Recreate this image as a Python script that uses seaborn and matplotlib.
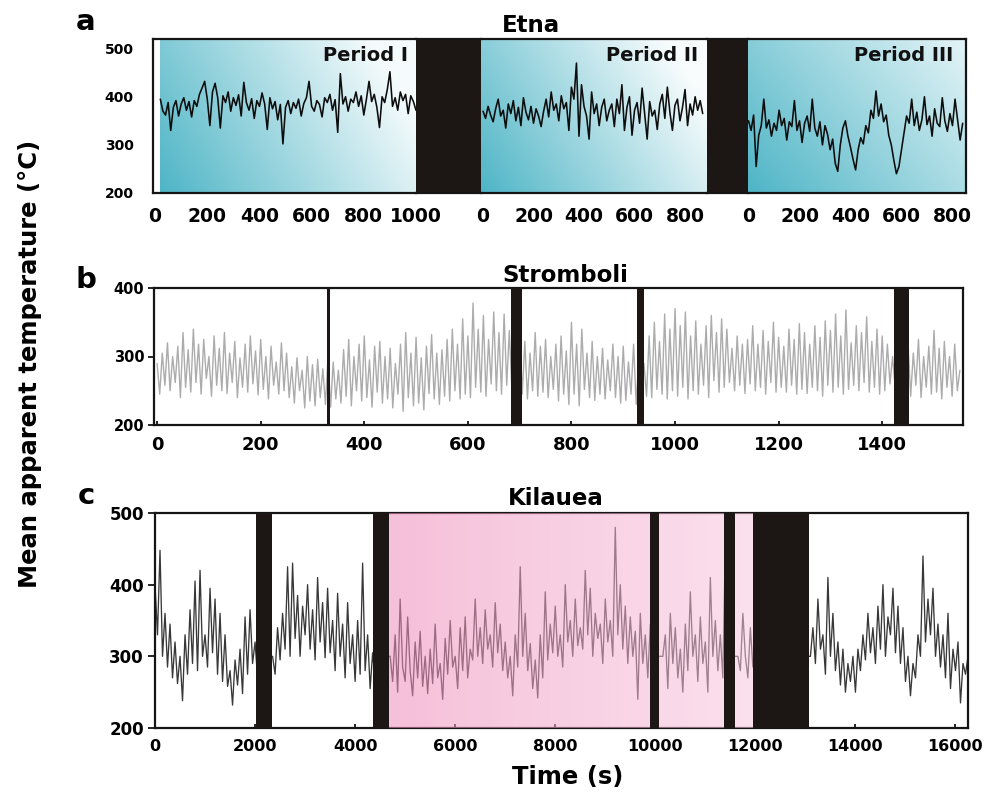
import numpy as np
import matplotlib
matplotlib.use("Agg")
import matplotlib.pyplot as plt
import seaborn as sns

# ---------------- data ----------------
# Etna (panel a), three periods, sampled every 10 s
etna_p1_start = 20
etna_p1 = [395, 370, 362, 388, 330, 378, 392, 360, 385, 398,
           372, 390, 358, 392, 380, 405, 418, 432, 395, 340,
           410, 428, 398, 335, 402, 388, 410, 370, 398, 382,
           404, 360, 430, 388, 372, 396, 355, 392, 380, 408,
           385, 332, 398, 375, 390, 352, 384, 302, 378, 392,
           365, 388, 376, 395, 360, 386, 398, 432, 380, 370,
           392, 384, 358, 398, 388, 405, 372, 394, 326, 448,
           385, 400, 370, 395, 388, 410, 380, 402, 362, 395,
           432, 390, 405, 378, 336, 400, 388, 415, 452, 380,
           398, 372, 410, 392, 405, 365, 402, 390, 372]
etna_p2 = [370, 355, 380, 362, 348, 375, 395, 360, 372, 335,
           385, 365, 392, 350, 378, 340, 398, 368, 352, 380,
           345, 375, 360, 338, 370, 395, 358, 410, 372, 385,
           350, 402, 375, 388, 330, 420, 395, 470, 318, 425,
           380, 360, 312, 410, 365, 385, 340, 378, 395, 350,
           372, 385, 338, 395, 365, 425, 330, 378, 400, 320,
           372, 388, 345, 418, 365, 312, 390, 360, 372, 332,
           385, 405, 355, 420, 368, 330, 382, 395, 350, 378,
           415, 340, 385, 362, 400, 372, 392, 365]
etna_p3 = [350, 330, 362, 255, 320, 340, 395, 335, 352, 318,
           345, 330, 372, 340, 355, 310, 348, 338, 392, 330,
           350, 305, 345, 360, 328, 395, 335, 318, 348, 300,
           340, 322, 290, 312, 262, 245, 300, 335, 350, 318,
           295, 270, 248, 290, 315, 302, 340, 325, 372, 355,
           412, 360, 385, 348, 362, 320, 300, 268, 240, 255,
           290, 325, 360, 345, 395, 340, 368, 330, 352, 400,
           342, 360, 318, 375, 345, 338, 398, 350, 328, 365,
           340, 395, 352, 310, 345]
etna_step = 10
etna_periods = ["Period I", "Period II", "Period III"]
etna_xticks = [[0, 200, 400, 600, 800, 1000], [0, 200, 400, 600, 800], [0, 200, 400, 600, 800]]

# Stromboli (panel b), sampled every 5 s
strom_step = 5
strom = [290, 245, 305, 258, 320, 250, 300, 262, 315, 240,
         335, 255, 310, 248, 340, 262, 318, 245, 325, 268,
         300, 242, 330, 258, 312, 250, 335, 246, 305, 262,
         322, 240, 298, 255, 318, 248, 330, 260, 308, 244,
         325, 252, 300, 238, 315, 258, 292, 245, 320, 250,
         305, 240, 285, 232, 298, 250, 280, 225, 300, 235,
         288, 228, 296, 240, 282, 230, 300, 226, 292, 238,
         280, 232, 310, 242, 325, 228, 300, 250, 318, 235,
         330, 240, 295, 226, 315, 248, 322, 232, 300, 238,
         312, 225, 290, 245, 318, 220, 335, 240, 305, 228,
         328, 232, 298, 222, 315, 246, 332, 238, 305, 230,
         310, 242, 325, 235, 340, 250, 318, 238, 355, 245,
         330, 240, 378, 255, 340, 248, 360, 242, 325, 260,
         365, 250, 335, 245, 362, 258, 338, 252, 320, 260,
         340, 245, 322, 238, 305, 250, 335, 242, 315, 248,
         325, 240, 300, 252, 318, 235, 330, 245, 308, 230,
         350, 245, 318, 228, 340, 252, 305, 240, 322, 236,
         300, 245, 312, 238, 295, 250, 318, 240, 300, 232,
         315, 236, 292, 245, 318, 230, 300, 248, 290, 242,
         330, 240, 350, 252, 322, 245, 362, 238, 340, 250,
         370, 242, 345, 255, 365, 238, 330, 250, 352, 245,
         318, 258, 345, 240, 360, 265, 335, 248, 355, 255,
         340, 262, 312, 250, 330, 258, 318, 246, 325, 260,
         345, 250, 318, 255, 338, 245, 322, 262, 350, 248,
         328, 255, 315, 248, 340, 258, 325, 245, 348, 252,
         335, 246, 318, 255, 345, 250, 328, 242, 352, 258,
         338, 248, 362, 255, 330, 245, 368, 252, 320, 258,
         345, 250, 335, 262, 358, 248, 322, 255, 340, 245,
         330, 250, 318, 260, 300, 255, 310, 248, 305, 262,
         318, 242, 305, 258, 325, 240, 300, 255, 315, 245,
         338, 248, 312, 238, 322, 255, 300, 242, 318, 250,
         280]
strom_gaps = [(328, 334), (683, 704), (926, 940), (1422, 1451)]
strom_xticks = [0, 200, 400, 600, 800, 1000, 1200, 1400]

# Kilauea (panel c), sampled every 50 s
kil_step = 50
kil = [400, 330, 448, 300, 360, 285, 345, 270, 320, 262,
       300, 238, 330, 275, 365, 290, 405, 280, 420, 300,
       330, 285, 395, 305, 380, 275, 360, 265, 330, 258,
       280, 232, 295, 260, 310, 248, 355, 275, 365, 290,
       320, 270, 300, 300, 300, 300, 300, 300, 275, 340,
       295, 360, 310, 425, 300, 430, 325, 385, 300, 370,
       330, 400, 310, 365, 295, 410, 320, 375, 298, 395,
       305, 350, 280, 388, 300, 345, 270, 375, 290, 330,
       265, 350, 275, 430, 280, 330, 255, 305, 265, 300,
       300, 300, 300, 300, 300, 265, 330, 250, 380, 285,
       265, 355, 280, 245, 320, 270, 335, 258, 300, 248,
       310, 262, 345, 270, 290, 240, 325, 275, 350, 285,
       300, 255, 340, 280, 355, 270, 310, 295, 380, 300,
       340, 290, 365, 310, 330, 285, 375, 305, 345, 280,
       320, 270, 300, 245, 330, 285, 425, 300, 360, 280,
       318, 255, 295, 242, 330, 270, 390, 295, 345, 305,
       370, 300, 330, 285, 400, 320, 350, 300, 380, 315,
       340, 310, 420, 330, 395, 300, 360, 325, 345, 290,
       380, 320, 350, 300, 480, 330, 400, 310, 370, 290,
       355, 300, 335, 240, 360, 290, 330, 270, 345, 300,
       300, 300, 300, 300, 330, 255, 360, 290, 340, 270,
       310, 250, 345, 280, 390, 300, 330, 265, 355, 290,
       320, 250, 410, 300, 350, 280, 330, 270, 460, 300,
       300, 300, 300, 300, 280, 360, 300, 270, 340, 285,
       300, 300, 300, 300, 300, 300, 300, 300, 300, 300,
       300, 300, 300, 300, 300, 300, 300, 300, 300, 300,
       300, 300, 300, 340, 290, 380, 310, 330, 275, 410,
       300, 360, 280, 320, 260, 310, 250, 290, 265, 300,
       250, 310, 280, 330, 295, 360, 305, 340, 290, 370,
       310, 400, 300, 355, 330, 395, 305, 370, 290, 340,
       265, 300, 245, 290, 270, 330, 300, 440, 320, 380,
       330, 395, 300, 345, 285, 330, 270, 360, 255, 310,
       280, 320, 235, 290, 275, 300]
kil_gaps = [(2020, 2340), (4357, 4677), (9894, 10074), (11373, 11593), (11953, 13072)]
kil_pink = (4677, 11953)
kil_xticks = [0, 2000, 4000, 6000, 8000, 10000, 12000, 14000, 16000]

# ---------------- style ----------------
sns.set_style("white")
plt.rcParams["font.family"] = ["DejaVu Sans"]
plt.rcParams["font.weight"] = "bold"
plt.rcParams["axes.labelweight"] = "bold"
plt.rcParams["text.color"] = "black"
plt.rcParams["xtick.color"] = "black"
plt.rcParams["ytick.color"] = "black"
plt.rcParams["xtick.labelcolor"] = "black"
plt.rcParams["ytick.labelcolor"] = "black"

W, H = 1003, 796
fig = plt.figure(figsize=(W / 100, H / 100), dpi=100)


def fx(px):
    return px / W


def fy(py):
    return 1 - py / H


BLACK = "#1c1615"
EDGE = "#151515"


def gradient(ax, x0, x1, y0, y1, c0, c1, wx, wy, alpha0=1.0, alpha1=1.0, z=0):
    u = np.linspace(0, 1, 300)[None, :]
    v = np.linspace(0, 1, 120)[:, None]
    f = np.clip(wx * u + wy * v, 0, 1)
    c0 = np.array(c0, float) / 255
    c1 = np.array(c1, float) / 255
    rgb = c0[None, None, :] + (c1 - c0)[None, None, :] * f[..., None]
    a = alpha0 + (alpha1 - alpha0) * f
    img = np.dstack([rgb, a])
    ax.imshow(img, extent=(x0, x1, y0, y1), origin="lower", aspect="auto",
              zorder=z, interpolation="bilinear")


# ---------------- panel a (Etna) ----------------
a_bottom, a_top = 193, 39
a_h = (a_bottom - a_top) / H
a_specs = [  # (left px, right px, xlim)
    (153, 416, (-8, 1000)),
    (481, 707, (-8, 887)),
    (748, 966, (-2, 853)),
]
gaps_a = [(416, 481), (707, 748)]
etna_data = [(etna_p1, etna_p1_start), (etna_p2, 0), (etna_p3, 0)]
teal = (78, 181, 198)
grad_params = [
    ((245, 251, 252), 0.85, 0.30),
    ((248, 252, 253), 0.80, 0.35),
    ((228, 244, 247), 0.62, 0.38),
]
label_pos = [(0.97, "Period I"), (0.96, "Period II"), (0.94, "Period III")]
for i, (l, r, xl) in enumerate(a_specs):
    ax = fig.add_axes([fx(l), fy(a_bottom), (r - l) / W, a_h])
    vals, start = etna_data[i]
    t = start + np.arange(len(vals)) * etna_step
    x0 = start if i == 0 else xl[0]
    c1, wx, wy = grad_params[i]
    gradient(ax, x0, xl[1], 200, 520, teal, c1, wx, wy, z=0)
    sns.lineplot(x=t, y=vals, ax=ax, color="#0d0d0d", linewidth=1.15, zorder=2)
    ax.set_xlim(*xl)
    ax.set_ylim(200, 520)
    ax.set_xlabel("")
    ax.set_ylabel("")
    ax.set_xticks(etna_xticks[i])
    ax.set_xticklabels([str(v) for v in etna_xticks[i]], fontsize=13.5, fontweight="bold")
    ax.tick_params(axis="x", length=0, pad=10)
    if i == 0:
        ax.set_yticks([200, 300, 400, 500])
        ax.set_yticklabels(["200", "300", "400", "500"], fontsize=10, fontweight="bold")
        ax.tick_params(axis="y", length=0, pad=14)
    else:
        ax.set_yticks([])
    for s in ax.spines.values():
        s.set_color(EDGE)
        s.set_linewidth(1.6)
    ax.spines["left"].set_visible(i == 0)
    ax.spines["right"].set_visible(i == 2)
    xr, txt = label_pos[i]
    ax.text(xr, 0.955, txt, transform=ax.transAxes, ha="right", va="top",
            fontsize=14, fontweight="bold", color="#111111", zorder=5)

for l, r in gaps_a:
    g = fig.add_axes([fx(l), fy(a_bottom), (r - l) / W, a_h])
    g.set_facecolor(BLACK)
    g.set_xticks([])
    g.set_yticks([])
    for s in g.spines.values():
        s.set_color(EDGE)
        s.set_linewidth(1.6)
    g.spines["left"].set_visible(False)
    g.spines["right"].set_visible(False)

# ---------------- panel b (Stromboli) ----------------
axb = fig.add_axes([fx(154), fy(425), (963 - 154) / W, (425 - 288) / H])
tb = np.arange(len(strom)) * strom_step
sns.lineplot(x=tb, y=strom, ax=axb, color="#acacac", linewidth=1.0, zorder=2)
for g0, g1 in strom_gaps:
    axb.axvspan(g0, g1, color=BLACK, zorder=4, lw=0)
axb.set_xlim(-6, 1556)
axb.set_ylim(200, 400)
axb.set_xlabel("")
axb.set_ylabel("")
axb.set_yticks([200, 300, 400])
axb.set_yticklabels(["200", "300", "400"], fontsize=10.5, fontweight="bold")
axb.set_xticks(strom_xticks)
axb.set_xticklabels([str(v) for v in strom_xticks], fontsize=13, fontweight="bold")
axb.tick_params(axis="y", direction="out", length=4, width=1.2, pad=3, left=True)
axb.tick_params(axis="x", direction="in", length=3, width=1.2, pad=8, bottom=True)
for s in axb.spines.values():
    s.set_color(EDGE)
    s.set_linewidth(1.6)

# ---------------- panel c (Kilauea) ----------------
axc = fig.add_axes([fx(155), fy(728), (968 - 155) / W, (728 - 513) / H])
tc = np.arange(len(kil)) * kil_step
sns.lineplot(x=tc, y=kil, ax=axc, color="#222222", linewidth=0.95, alpha=0.9, zorder=2)
gradient(axc, kil_pink[0], kil_pink[1], 200, 500, (238, 142, 188), (248, 198, 222),
         1.0, 0.0, alpha0=0.56, alpha1=0.54, z=3)
for g0, g1 in kil_gaps:
    axc.axvspan(g0, g1, color=BLACK, zorder=4, lw=0)
axc.set_xlim(0, 16250)
axc.set_ylim(200, 500)
axc.set_xlabel("")
axc.set_ylabel("")
axc.set_yticks([200, 300, 400, 500])
axc.set_yticklabels(["200", "300", "400", "500"], fontsize=12, fontweight="bold")
axc.set_xticks(kil_xticks)
axc.set_xticklabels([str(v) for v in kil_xticks], fontsize=11.5, fontweight="bold")
axc.tick_params(axis="y", direction="out", length=5, width=1.2, pad=3, left=True)
axc.tick_params(axis="x", direction="in", length=3, width=1.2, pad=8, bottom=True)
for s in axc.spines.values():
    s.set_color(EDGE)
    s.set_linewidth(1.6)

# ---------------- texts ----------------
fig.text(fx(531), fy(32), "Etna", ha="center", va="baseline", fontsize=16.5, fontweight="bold")
fig.text(fx(565), fy(282), "Stromboli", ha="center", va="baseline", fontsize=16.5, fontweight="bold")
fig.text(fx(556), fy(505), "Kilauea", ha="center", va="baseline", fontsize=16.5, fontweight="bold")
fig.text(fx(86), fy(30), "a", ha="center", va="baseline", fontsize=21, fontweight="bold")
fig.text(fx(86), fy(288), "b", ha="center", va="baseline", fontsize=21, fontweight="bold")
fig.text(fx(86), fy(504), "c", ha="center", va="baseline", fontsize=21, fontweight="bold")
fig.text(fx(568), fy(784), "Time (s)", ha="center", va="baseline", fontsize=17.5, fontweight="bold")
fig.text(fx(30), fy(364), "Mean apparent temperature (\u00b0C)", ha="center", va="center",
         rotation=90, fontsize=17.5, fontweight="bold")

fig.savefig("out.png", dpi=100)
